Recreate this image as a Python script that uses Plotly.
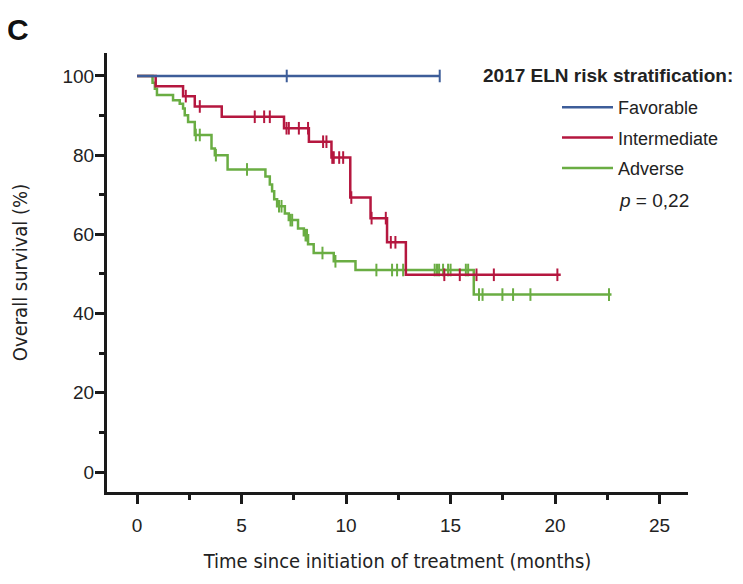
import plotly.graph_objects as go

# ---- data ----
fav_times = [0, 14.48]
fav_surv = [100, 100]
fav_cens = [7.16, 14.48]

int_times = [0, 0.89, 2.20, 2.76, 4.05, 7.03, 8.22, 9.30, 10.20, 11.17, 11.96, 12.86, 20.27]
int_surv = [100, 97.4, 94.9, 92.3, 89.7, 86.8, 83.4, 79.4, 69.3, 64.1, 58.0, 49.8, 49.8]
int_cens = [2.33, 3.00, 5.63, 6.08, 6.35, 7.15, 7.26, 7.74, 8.18, 8.90, 9.06, 9.34, 9.41,
            9.67, 9.86, 10.25, 11.22, 11.90, 12.14, 12.36, 14.70, 15.44, 16.24, 17.07, 20.11]

adv_times = [0, 0.74, 0.85, 0.95, 1.72, 2.04, 2.20, 2.28, 2.44, 2.76, 3.56, 3.72, 4.33,
             6.14, 6.35, 6.46, 6.56, 6.70, 7.07, 7.26, 7.70, 7.98, 8.18, 8.45, 9.41, 10.45,
             16.11, 22.70]
adv_surv = [100, 98.3, 96.8, 95.2, 93.9, 93.0, 91.8, 90.1, 88.4, 85.1, 81.7, 80.0, 76.4,
            74.6, 72.6, 70.9, 68.9, 67.1, 65.3, 63.6, 61.5, 59.8, 57.5, 55.3, 53.2, 51.0,
            44.8, 44.8]
adv_cens = [2.81, 3.00, 3.77, 5.26, 6.79, 6.91, 7.34, 7.42, 8.06, 8.13, 8.87, 9.49, 11.45,
            12.20, 12.44, 12.73, 14.24, 14.35, 14.45, 14.64, 14.88, 15.00, 15.73, 15.84,
            16.36, 16.53, 17.48, 17.99, 18.82, 22.58]

names = ["Favorable", "Intermediate", "Adverse"]
colors = ["#3d5d99", "#b5173f", "#6aad43"]

x_ticks = [0, 5, 10, 15, 20, 25]
y_ticks = [0, 20, 40, 60, 80, 100]


def step_value(times, surv, t):
    v = surv[0]
    for ti, si in zip(times, surv):
        if ti <= t:
            v = si
    return v


fig = go.Figure()
series = [
    (adv_times, adv_surv, adv_cens, 2),
    (int_times, int_surv, int_cens, 1),
    (fav_times, fav_surv, fav_cens, 0),
]
order_rank = {0: 1, 1: 2, 2: 3}
for times, surv, cens, idx in series:
    fig.add_trace(go.Scatter(
        x=times, y=surv, mode="lines", line=dict(shape="hv", color=colors[idx], width=2.5),
        name=names[idx], legendgroup=names[idx], legendrank=order_rank[idx],
        hoverinfo="skip"))
    fig.add_trace(go.Scatter(
        x=cens, y=[step_value(times, surv, c) for c in cens], mode="markers",
        marker=dict(symbol="line-ns", size=9, line=dict(color=colors[idx], width=2)),
        showlegend=False, legendgroup=names[idx], hoverinfo="skip"))

# page body has an 8px margin; work in page pixel coordinates
OFF = 8
W, H = 743 - OFF, 584 - OFF
plot_l, plot_r, plot_t, plot_b = 107, 688, 53, 492  # page px
ml, mt = plot_l - OFF, plot_t - OFF
mr = W - (plot_r - OFF)
mb = H - (plot_b - OFF)
pw, ph = plot_r - plot_l, plot_b - plot_t


def px(xp):  # page x -> paper
    return (xp - plot_l) / pw


def py(yp):  # page y -> paper
    return (plot_b - yp) / ph


axis_color = "#1a1a1a"
tick_font = dict(family="Liberation Sans, Arial, sans-serif", size=19, color="#222222")
title_font = dict(family="Liberation Sans Narrow, DejaVu Sans Condensed, Liberation Sans, sans-serif",
                  size=20, color="#222222")

fig.update_layout(
    width=W, height=H,
    margin=dict(l=ml, r=mr, t=mt, b=mb, autoexpand=False),
    paper_bgcolor="white", plot_bgcolor="white",
    showlegend=True,
    legend=dict(
        x=px(557), y=py(89), xanchor="left", yanchor="top",
        font=dict(family="Liberation Sans, Arial, sans-serif", size=18, color="#222222"),
        bgcolor="rgba(0,0,0,0)", tracegroupgap=4, itemwidth=51,
    ),
    xaxis=dict(
        range=[-1.44, 26.36], tickvals=x_ticks, ticktext=[str(v) for v in x_ticks],
        showgrid=False, zeroline=False, showline=True, linewidth=3, linecolor=axis_color,
        ticks="outside", ticklen=9, tickwidth=2.5, tickcolor=axis_color,
        minor=dict(tickvals=[2.5, 7.5, 12.5, 17.5, 22.5], ticks="outside", ticklen=5,
                   tickwidth=2.5, tickcolor=axis_color, showgrid=False),
        tickfont=tick_font, ticklabelstandoff=5,
        title=dict(text="Time since initiation of treatment (months)", font=title_font,
                   standoff=20),
    ),
    yaxis=dict(
        range=[-5.05, 105.8], tickvals=y_ticks, ticktext=[str(v) for v in y_ticks],
        showgrid=False, zeroline=False, showline=True, linewidth=3, linecolor=axis_color,
        ticks="outside", ticklen=9, tickwidth=2.5, tickcolor=axis_color,
        minor=dict(tickvals=[10, 30, 50, 70, 90], ticks="outside", ticklen=5,
                   tickwidth=2.5, tickcolor=axis_color, showgrid=False),
        tickfont=tick_font, ticklabelstandoff=-3,
        title=dict(text="Overall survival (%)", font=title_font, standoff=32),
    ),
    annotations=[
        dict(text="<b>C</b>", x=px(18), y=py(30), xref="paper", yref="paper",
             xanchor="center", yanchor="middle", showarrow=False,
             font=dict(family="Liberation Sans, Arial, sans-serif", size=30, color="#111111")),
        dict(text="<b>2017 ELN risk stratification:</b>", x=px(481), y=py(76),
             xref="paper", yref="paper", xanchor="left", yanchor="middle", showarrow=False,
             font=dict(family="Liberation Sans, Arial, sans-serif", size=19, color="#222222")),
        dict(text="<i>p</i> = 0,22", x=px(617), y=py(200), xref="paper", yref="paper",
             xanchor="left", yanchor="middle", showarrow=False,
             font=dict(family="Liberation Sans, Arial, sans-serif", size=19, color="#222222")),
    ],
)

fig.write_html("out.html")
